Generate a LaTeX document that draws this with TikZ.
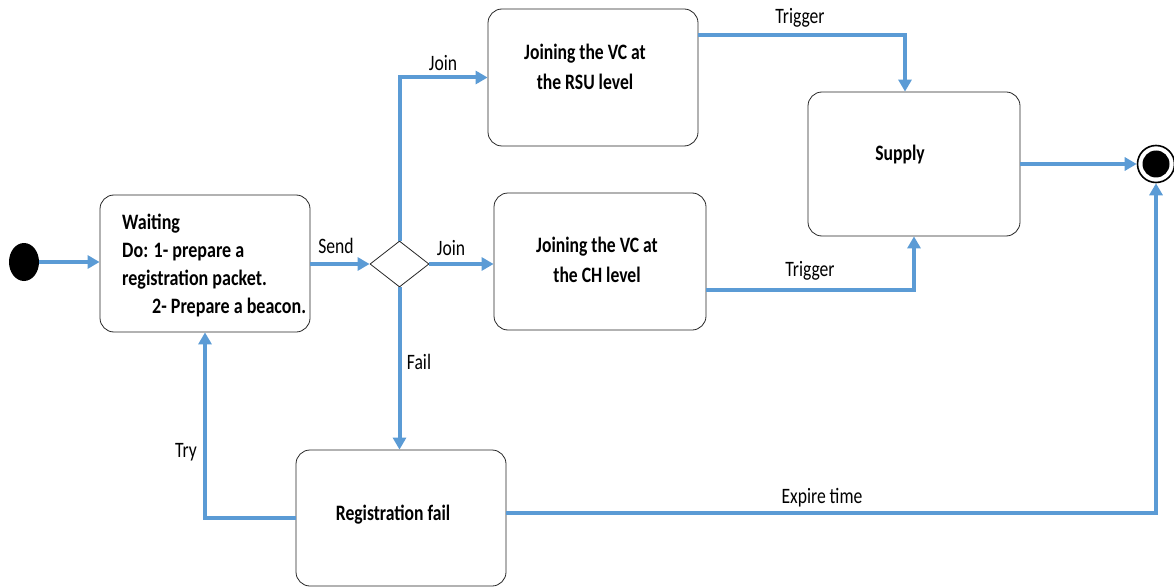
\documentclass[tikz,border=0pt]{standalone}
\usepackage{fontspec}
\setmainfont{Carlito}
\newfontfamily\narrowfont[FakeStretch=0.8]{Carlito}
\newfontfamily\narrowbold[FakeStretch=0.8]{Carlito Bold}
\newfontfamily\widerbold[FakeStretch=0.82]{Carlito Bold}
\usetikzlibrary{shapes.geometric,arrows.meta,calc}
\definecolor{flowblue}{RGB}{91,155,213}
\tikzset{
  state/.style={draw=black!85, line width=0.8pt, rounded corners=14pt, inner sep=0pt,
                minimum width=210pt, minimum height=137pt},
  flow/.style={draw=flowblue, line width=4pt, -{Triangle[length=12pt,width=13pt]}},
  lbl/.style={font=\narrowfont\fontsize{22}{24}\selectfont, inner sep=1pt},
  ttl/.style={font=\narrowbold\fontsize{22}{30}\selectfont, align=center, inner sep=0pt},
}
\begin{document}
\begin{tikzpicture}[x=1pt,y=-1pt]
  \useasboundingbox (0,0) rectangle (1174,588);

  % pseudo states
  \node[draw=none, fill=black, ellipse, minimum width=30pt, minimum height=38pt, inner sep=0pt] (init) at (24,262) {};
  \node[circle, draw=black, line width=1.6pt, minimum size=37pt, inner sep=0pt] (final) at (1156,164) {};
  \node[circle, fill=black, minimum size=27pt, inner sep=0pt] (finaldot) at (final) {};

  % states
  \node[state] (wait) at (205,263.5) {};
  \node[ttl, font=\widerbold\fontsize{22}{28}\selectfont, align=left, anchor=north west] (waittext) at (122,214)
    {Waiting\\Do: 1- prepare a\\registration packet.\\\hspace*{30pt}2- Prepare a beacon.};
  \node[draw=black!85, line width=0.8pt, diamond, aspect=1.28, minimum width=59pt,
        minimum height=46pt, inner sep=0pt] (dec) at (399.5,264) {};
  \node[state] (rsu) at (593,77.5) {};
  \node[ttl] (rsutext) at (585,67) {Joining the VC at\\the RSU level};
  \node[state, minimum width=212pt] (ch) at (600,261.5) {};
  \node[ttl] (chtext) at (597,260) {Joining the VC at\\the CH level};
  \node[state, minimum width=212pt, minimum height=144pt] (supply) at (914,164) {};
  \node[ttl] (supplytext) at (900,155) {Supply};
  \node[state, minimum height=136pt] (reg) at (401,518) {};
  \node[ttl] (regtext) at (393,515) {Registration fail};

  % transitions
  \draw[flow] (init.east) -- (init -| wait.west);
  \draw[flow] (wait.east |- dec) -- (dec.west);
  \draw[flow] (dec.north) |- (rsu.west);
  \draw[flow] (dec.east) -- (dec -| ch.west);
  \draw[flow] (dec.south) -- (dec |- reg.north);
  \coordinate (rsuout) at ($(rsu.north east)+(0,26)$);
  \coordinate (supin) at ($(supply.north)+(-9,0)$);
  \draw[flow] (rsuout) -| (supin);
  \coordinate (chout) at ($(ch.south east)+(0,-40)$);
  \draw[flow] (chout) -| (supply.south);
  \draw[flow] (supply.east) -- (final.west);
  \coordinate (regout) at ($(reg.east)+(0,-5)$);
  \draw[flow] (regout) -| (final.south);
  \draw[flow] (reg.west) -| (wait.south);

  % transition labels
  \node[lbl] (lsend) at (336,246) {Send};
  \node[lbl] (ljoin1) at (443,63) {Join};
  \node[lbl] (ljoin2) at (451,248) {Join};
  \node[lbl] (lfail) at (419,362) {Fail};
  \node[lbl] (ltrig1) at (800,18) {Trigger};
  \node[lbl] (ltrig2) at (810,271) {Trigger};
  \node[lbl] (lexp) at (822,498) {Expire time};
  \node[lbl] (ltry) at (186,452) {Try};
\end{tikzpicture}
\end{document}
